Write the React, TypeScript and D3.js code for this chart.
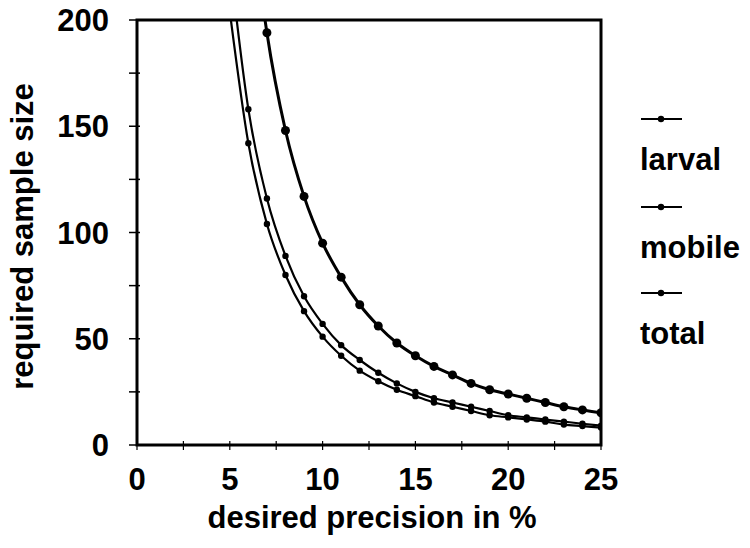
import React from "react";
import * as d3 from "d3";

const precision = [5, 6, 7, 8, 9, 10, 11, 12, 13, 14, 15, 16, 17, 18, 19, 20, 21, 22, 23, 24, 25];
const larval = [380, 264, 194, 148, 117, 95, 79, 66, 56, 48, 42, 37, 33, 29, 26, 24, 22, 20, 18, 16.5, 15.2];
const mobile = [228, 158, 116, 89, 70, 57, 47, 40, 34, 29, 25, 22, 20, 18, 16, 14, 13, 12, 11, 10, 9.1];
const total = [204, 142, 104, 80, 63, 51, 42, 35, 30, 26, 23, 20, 18, 16, 14, 13, 12, 11, 9.6, 8.9, 8.2];
const seriesNames = ["larval", "mobile", "total"];
const xTicks = [0, 5, 10, 15, 20, 25];
const yTicks = [0, 50, 100, 150, 200];

const W = 750, H = 548;
const L = 137, R = 601, T = 20, B = 445;
const FONT = "'Liberation Sans', Arial, sans-serif";
const FS = 31;

export default function App() {
  const x = d3.scaleLinear().domain([0, 25]).range([L, R]);
  const y = d3.scaleLinear().domain([0, 200]).range([B, T]);
  const series = [
    { name: seriesNames[0], values: larval, r: 4.5, sw: 3, minX: 7 },
    { name: seriesNames[1], values: mobile, r: 3.2, sw: 2.2, minX: 6 },
    { name: seriesNames[2], values: total, r: 3.2, sw: 2.2, minX: 6 },
  ];
  const line = d3
    .line<[number, number]>()
    .x((d) => x(d[0]))
    .y((d) => y(d[1]))
    .curve(d3.curveMonotoneX);
  const minorX = d3.range(0, 25.01, 2.5);
  const minorY = d3.range(0, 200.01, 25);
  const legendY = [119, 207, 293];
  return (
    <svg width={W} height={H} style={{ position: "absolute", left: 0, top: 0, background: "#fff" }}>
      <defs>
        <clipPath id="plot">
          <rect x={L} y={T} width={R - L} height={B - T} />
        </clipPath>
      </defs>
      <rect x={0} y={0} width={W} height={H} fill="#fff" />
      <g clipPath="url(#plot)">
        {series.map((s) => {
          const pts = precision.map((p, i) => [p, s.values[i]] as [number, number]);
          return (
            <g key={s.name}>
              <path d={line(pts) || ""} fill="none" stroke="#000" strokeWidth={s.sw} />
              {pts
                .filter((d) => d[0] >= s.minX)
                .map((d) => (
                  <circle key={d[0]} cx={x(d[0])} cy={y(d[1])} r={s.r} fill="#000" />
                ))}
            </g>
          );
        })}
      </g>
      <rect x={L} y={T} width={R - L} height={B - T} fill="none" stroke="#000" strokeWidth={3} />
      {minorY.map((v) => (
        <line key={"yt" + v} x1={L - 8} x2={L + 3} y1={y(v)} y2={y(v)} stroke="#000" strokeWidth={1.5} />
      ))}
      {minorX.map((v) => (
        <line key={"xt" + v} x1={x(v)} x2={x(v)} y1={B - 4} y2={B + 5} stroke="#000" strokeWidth={1.2} />
      ))}
      {yTicks.map((v) => (
        <text key={"yl" + v} x={L - 28} y={y(v) + 11} textAnchor="end" fontFamily={FONT} fontSize={FS} fontWeight="bold">
          {v}
        </text>
      ))}
      {xTicks.map((v) => (
        <text key={"xl" + v} x={x(v)} y={490} textAnchor="middle" fontFamily={FONT} fontSize={FS} fontWeight="bold">
          {v}
        </text>
      ))}
      <text x={(L + R) / 2 + 3} y={528} textAnchor="middle" fontFamily={FONT} fontSize={FS} fontWeight="bold">
        desired precision in %
      </text>
      <text
        transform={`translate(33, ${(T + B) / 2 + 4}) rotate(-90)`}
        textAnchor="middle"
        fontFamily={FONT}
        fontSize={FS}
        fontWeight="bold"
      >
        required sample size
      </text>
      {series.map((s, i) => (
        <g key={"lg" + s.name}>
          <line x1={641} x2={682} y1={legendY[i]} y2={legendY[i]} stroke="#000" strokeWidth={2.2} />
          <circle cx={661} cy={legendY[i]} r={3.2} fill="#000" />
          <text x={640} y={legendY[i] + 51} fontFamily={FONT} fontSize={FS} fontWeight="bold">
            {s.name}
          </text>
        </g>
      ))}
    </svg>
  );
}
